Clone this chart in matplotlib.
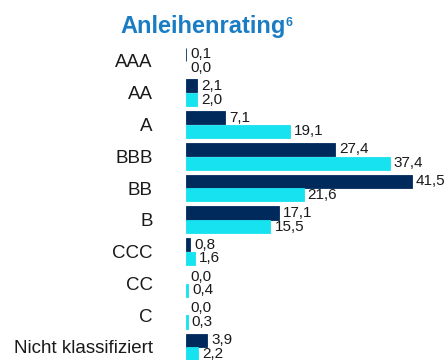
import numpy as np
import matplotlib
matplotlib.use("Agg")
import matplotlib.pyplot as plt

plt.rcParams["font.family"] = ["Liberation Sans", "DejaVu Sans"]

# Rating categories and shares (%)
ratings = ["AAA", "AA", "A", "BBB", "BB", "B", "CCC", "CC", "C",
           "Nicht klassifiziert"]
fund = [0.1, 2.1, 7.1, 27.4, 41.5, 17.1, 0.8, 0.0, 0.0, 3.9]
benchmark = [0.0, 2.0, 19.1, 37.4, 21.6, 15.5, 1.6, 0.4, 0.3, 2.2]

navy = "#002a5c"
cyan = "#16e3ef"
title_blue = "#1a7dc4"

fig = plt.figure(figsize=(4.48, 3.6), dpi=100)
ax = fig.add_axes([0.415, 0.001, 0.547, 0.8826])

y = np.arange(len(ratings))
h = 0.41
off = 0.215

# thin outline so very small non-zero shares still show up
ax.barh(y - off, fund, height=h, color=navy, edgecolor=navy,
        linewidth=[0.6 if v > 0 else 0 for v in fund])
ax.barh(y + off, benchmark, height=h, color=cyan, edgecolor=cyan,
        linewidth=[0.6 if v > 0 else 0 for v in benchmark])


def fmt(v):
    return f"{v:.1f}".replace(".", ",")


for yi, v in zip(y, fund):
    ax.annotate(fmt(v), (v, yi - off), xytext=(3, 0), textcoords="offset points",
                va="center", ha="left", fontsize=11, color="#1a1a1a")
for yi, v in zip(y, benchmark):
    ax.annotate(fmt(v), (v, yi + off), xytext=(3, 0), textcoords="offset points",
                va="center", ha="left", fontsize=11, color="#1a1a1a")

ax.set_xlim(0, 45)
ax.set_ylim(9.4, -0.6)
ax.set_yticks(y)
ax.set_yticklabels(ratings, fontsize=13.5, color="#1a1a1a")
ax.tick_params(axis="y", length=0, pad=24)
ax.set_xticks([])
for s in ax.spines.values():
    s.set_visible(False)

# Title with superscript footnote marker
t = fig.text(203 / 448, 1 - 33 / 360, "Anleihenrating", ha="center",
             va="baseline", fontsize=17, fontweight="bold", color=title_blue)
ax.annotate("6", xy=(1, 1), xycoords=t, xytext=(-0.3, -1.5),
            textcoords="offset points", ha="left", va="top",
            fontsize=9, fontweight="bold", color=title_blue)

fig.savefig("out.png", dpi=100)
